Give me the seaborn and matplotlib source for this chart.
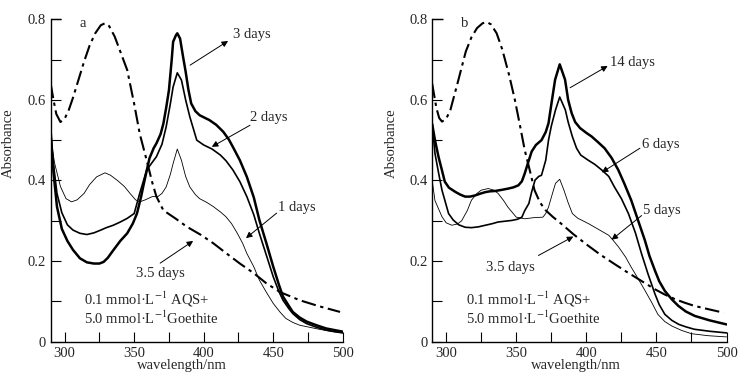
import numpy as np
import pandas as pd
import matplotlib
matplotlib.use("Agg")
import matplotlib.pyplot as plt
import seaborn as sns

# ---------------- data ----------------
# Panel a
a_dd_x = [290, 292, 294, 297, 300, 303, 306, 310, 314, 318, 322, 326, 329, 332, 336, 340, 345, 350, 354, 359, 363, 366, 371, 380, 388, 398, 407, 416, 426, 436, 445, 455, 469, 483, 498]
a_dd_y = [0.64, 0.6, 0.565, 0.545, 0.553, 0.575, 0.605, 0.65, 0.695, 0.735, 0.765, 0.785, 0.79, 0.783, 0.757, 0.72, 0.674, 0.59, 0.516, 0.45, 0.395, 0.36, 0.326, 0.305, 0.285, 0.265, 0.244, 0.22, 0.194, 0.17, 0.145, 0.123, 0.103, 0.088, 0.074]

a_1d_x = [290, 293, 297, 301, 305, 309, 314, 318, 323, 329, 333, 338, 343, 347, 351, 354, 358, 363, 367, 370, 373, 376, 378, 381, 384, 387, 390, 394, 397, 402, 407, 412, 416, 420, 424, 428, 431, 436, 440, 445, 450, 455, 459, 464, 469, 476, 483, 491, 500]
a_1d_y = [0.50, 0.44, 0.385, 0.355, 0.347, 0.352, 0.368, 0.39, 0.409, 0.419, 0.413, 0.40, 0.385, 0.368, 0.352, 0.347, 0.352, 0.36, 0.36, 0.368, 0.384, 0.415, 0.442, 0.478, 0.45, 0.41, 0.384, 0.365, 0.355, 0.346, 0.335, 0.322, 0.31, 0.293, 0.27, 0.244, 0.219, 0.186, 0.153, 0.123, 0.095, 0.073, 0.058, 0.048, 0.041, 0.036, 0.031, 0.026, 0.022]

a_2d_x = [290, 292, 294.5, 298, 302, 306, 311, 316, 321, 326, 330, 335, 340, 345, 350, 354, 359, 363, 366, 370, 373, 376, 378, 381, 384, 387, 390, 395, 400, 406, 412, 416, 421, 426, 431, 436, 440, 445, 450, 454, 457, 461, 464, 469, 474, 481, 488, 494, 500]
a_2d_y = [0.52, 0.44, 0.368, 0.32, 0.29, 0.277, 0.269, 0.266, 0.27, 0.277, 0.283, 0.289, 0.297, 0.306, 0.318, 0.368, 0.426, 0.445, 0.459, 0.49, 0.533, 0.59, 0.632, 0.667, 0.649, 0.6, 0.558, 0.5, 0.488, 0.478, 0.463, 0.449, 0.426, 0.397, 0.36, 0.315, 0.269, 0.215, 0.161, 0.125, 0.103, 0.083, 0.07, 0.055, 0.045, 0.036, 0.029, 0.025, 0.022]

a_3d_x = [290, 292, 294.5, 298, 302, 306, 311, 316, 321, 325, 328, 331, 335, 340, 345, 349, 352, 355, 357, 361, 364, 366, 369, 371, 373, 375, 377, 378, 380, 381, 383, 385, 387, 389, 391, 394, 397, 401, 404, 409, 414, 418, 421, 426, 431, 436, 440, 445, 450, 454, 457, 461, 464, 469, 474, 481, 488, 494, 500]
a_3d_y = [0.52, 0.42, 0.335, 0.28, 0.25, 0.228, 0.207, 0.197, 0.194, 0.194, 0.198, 0.208, 0.227, 0.25, 0.269, 0.293, 0.318, 0.36, 0.393, 0.455, 0.48, 0.492, 0.515, 0.541, 0.58, 0.624, 0.7, 0.744, 0.76, 0.765, 0.752, 0.71, 0.67, 0.625, 0.591, 0.572, 0.562, 0.555, 0.55, 0.538, 0.521, 0.502, 0.483, 0.45, 0.409, 0.358, 0.302, 0.245, 0.186, 0.142, 0.112, 0.09, 0.074, 0.06, 0.05, 0.041, 0.033, 0.029, 0.025]

# Panel b
b_dd_x = [290, 293, 295, 297, 300, 303, 308, 314, 318, 322, 326, 329, 332, 336, 340, 345, 349, 353, 356, 360, 363, 367, 371, 376, 382, 391, 401, 410, 420, 428, 435, 442, 449, 456, 463, 470, 477, 488, 498]
b_dd_y = [0.64, 0.58, 0.555, 0.546, 0.553, 0.575, 0.64, 0.72, 0.755, 0.778, 0.79, 0.793, 0.787, 0.765, 0.725, 0.66, 0.6, 0.53, 0.476, 0.42, 0.376, 0.345, 0.326, 0.31, 0.293, 0.266, 0.239, 0.216, 0.193, 0.175, 0.16, 0.145, 0.13, 0.117, 0.106, 0.097, 0.089, 0.08, 0.072]

b_5d_x = [290, 292, 297, 300, 304, 308, 311, 315, 318, 322, 325, 330, 334, 337, 341, 344, 350, 356, 363, 369, 371, 373, 376, 378, 381, 384, 387, 390, 394, 397, 402, 406, 411, 416, 419, 423, 428, 432, 437, 442, 447, 451, 456, 461, 468, 475, 487, 500]
b_5d_y = [0.40, 0.35, 0.31, 0.295, 0.289, 0.292, 0.30, 0.325, 0.351, 0.368, 0.376, 0.38, 0.376, 0.368, 0.35, 0.334, 0.309, 0.305, 0.308, 0.309, 0.318, 0.334, 0.37, 0.393, 0.403, 0.376, 0.345, 0.318, 0.306, 0.301, 0.292, 0.284, 0.274, 0.264, 0.252, 0.235, 0.21, 0.185, 0.156, 0.126, 0.095, 0.068, 0.05, 0.039, 0.028, 0.02, 0.015, 0.012]

b_6d_x = [290, 292, 294.5, 297, 301.7, 305, 309, 313.5, 318, 323, 328, 333, 337, 342, 347, 351, 354, 356, 359, 361, 363.4, 366, 368, 371, 373, 375, 378, 381, 385, 387, 390, 393, 396, 401, 406, 411, 416, 420, 425, 430, 435, 439.4, 444, 449, 452, 456, 461, 466, 471, 477, 488, 500]
b_6d_y = [0.54, 0.467, 0.42, 0.376, 0.318, 0.302, 0.29, 0.284, 0.283, 0.285, 0.289, 0.293, 0.297, 0.299, 0.301, 0.304, 0.309, 0.325, 0.343, 0.372, 0.401, 0.41, 0.413, 0.45, 0.50, 0.535, 0.575, 0.607, 0.575, 0.545, 0.509, 0.48, 0.463, 0.451, 0.44, 0.426, 0.41, 0.384, 0.355, 0.318, 0.27, 0.218, 0.168, 0.118, 0.092, 0.068, 0.053, 0.043, 0.037, 0.031, 0.026, 0.022]

b_14d_x = [290, 292, 294.5, 297, 299, 302, 306.4, 310, 313.5, 317, 320.7, 324, 327.8, 331, 335, 340, 344.4, 348, 351.5, 354, 356, 358.5, 361, 364, 368, 371, 373, 375.5, 377.7, 381, 384.8, 387, 389.5, 392, 395.5, 400, 403.8, 408, 413, 418, 422.8, 427, 432, 437, 441.8, 445, 449, 452, 456, 461, 465.6, 471, 477.4, 488, 500]
b_14d_y = [0.54, 0.5, 0.459, 0.425, 0.397, 0.382, 0.372, 0.365, 0.36, 0.36, 0.363, 0.367, 0.371, 0.373, 0.374, 0.377, 0.38, 0.383, 0.388, 0.398, 0.417, 0.445, 0.472, 0.488, 0.5, 0.52, 0.542, 0.6, 0.65, 0.688, 0.65, 0.6, 0.567, 0.545, 0.53, 0.518, 0.509, 0.496, 0.48, 0.456, 0.426, 0.393, 0.351, 0.3, 0.251, 0.213, 0.176, 0.15, 0.126, 0.105, 0.089, 0.075, 0.064, 0.053, 0.043]

x_ticks = [300, 350, 400, 450, 500]
y_ticks = [0, 0.2, 0.4, 0.6, 0.8]
y_ticklabels = ["0", "0.2", "0.4", "0.6", "0.8"]

# ---------------- styling ----------------
sns.set_style("ticks")
plt.rcParams["font.family"] = ["Liberation Serif", "DejaVu Serif"]
plt.rcParams["mathtext.fontset"] = "stix"
FS = 10.5

fig = plt.figure(figsize=(7.49, 3.84), dpi=100)
ax_a = fig.add_axes([0.0677, 0.110, 0.390, 0.840])
ax_b = fig.add_axes([0.577, 0.110, 0.393, 0.840])

DD = (0, (7, 2.2, 1.6, 2.2))


def draw(ax, x, y, lw, ls="-"):
    df = pd.DataFrame({"wl": x, "A": y})
    sns.lineplot(data=df, x="wl", y="A", ax=ax, color="black", lw=lw,
                 linestyle=ls, estimator=None, sort=False)


draw(ax_a, a_dd_x, a_dd_y, 1.5, DD)
draw(ax_a, a_1d_x, a_1d_y, 0.6)
draw(ax_a, a_2d_x, a_2d_y, 1.2)
draw(ax_a, a_3d_x, a_3d_y, 1.8)

draw(ax_b, b_dd_x, b_dd_y, 1.5, DD)
draw(ax_b, b_5d_x, b_5d_y, 0.6)
draw(ax_b, b_6d_x, b_6d_y, 1.2)
draw(ax_b, b_14d_x, b_14d_y, 1.8)

arrow = dict(arrowstyle="-|>", color="black", lw=0.7, mutation_scale=9,
             shrinkA=0, shrinkB=0)


def note(ax, text, xy, xytext, tx, ty, ha="left"):
    ax.annotate("", xy=xy, xytext=xytext, arrowprops=arrow)
    ax.text(tx, ty, text, fontsize=FS, ha=ha, va="center")


# panel a annotations
note(ax_a, "3 days", (417.5, 0.746), (390.2, 0.686), 421, 0.762)
note(ax_a, "2 days", (405.8, 0.4835), (433.3, 0.537), 433.4, 0.557)
note(ax_a, "1 days", (430.4, 0.257), (452.4, 0.319), 453.4, 0.334)
note(ax_a, "3.5 days", (392.4, 0.25), (368.7, 0.195), 368.7, 0.170, ha="center")

# panel b annotations
note(ax_b, "14 days", (415.2, 0.684), (388.4, 0.63), 416.9, 0.692)
note(ax_b, "6 days", (411, 0.42), (438.2, 0.48), 439.4, 0.49)
note(ax_b, "5 days", (418, 0.253), (439.4, 0.313), 440.6, 0.326)
note(ax_b, "3.5 days", (390.7, 0.261), (365.8, 0.214), 345.6, 0.185, ha="center")

for ax, letter, ylx, xlx in ((ax_a, "a", -0.122, 0.45), (ax_b, "b", -0.117, 0.49)):
    ax.text(310.5, 0.79, letter, fontsize=FS, ha="left", va="center")
    ax.text(314, 0.105, "0.1 mmol·L$^{-1}$ AQS+", fontsize=FS, ha="left", va="center")
    ax.text(314, 0.058, "5.0 mmol·L$^{-1}$Goethite", fontsize=FS, ha="left", va="center")

    ax.set_xlim(290, 500)
    ax.set_ylim(0, 0.8)
    ax.set_xticks(x_ticks)
    ax.set_xticks([325, 375, 425, 475], minor=True)
    ax.set_yticks(y_ticks)
    ax.set_yticklabels(y_ticklabels)
    ax.set_yticks([0.1, 0.3, 0.5, 0.7], minor=True)
    ax.tick_params(axis="both", which="both", direction="in", length=7,
                   width=0.8, labelsize=FS, color="black")
    ax.tick_params(axis="x", pad=4)
    ax.set_xlabel("wavelength/nm", fontsize=FS, labelpad=-1)
    ax.xaxis.label.set_x(xlx)
    ax.set_ylabel("Absorbance", fontsize=FS)
    ax.yaxis.set_label_coords(ylx, 0.616)
    ax.set_facecolor("white")
    for side in ("top", "right"):
        ax.spines[side].set_visible(False)
    for side in ("left", "bottom"):
        ax.spines[side].set_linewidth(1.0)
        ax.spines[side].set_color("black")
    ax.hlines(0.8, 290, 297.5, color="black", lw=1.0, clip_on=False)

fig.savefig("out.png", dpi=100, facecolor="white")
